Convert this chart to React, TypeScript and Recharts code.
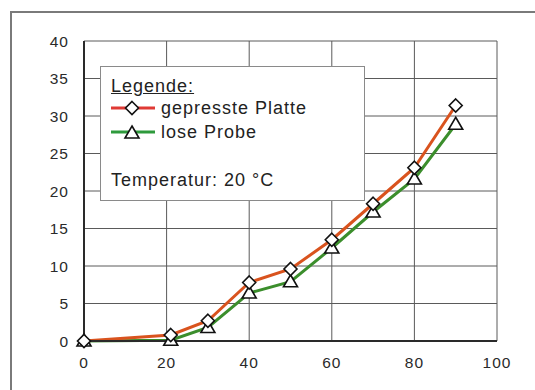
import { LineChart, Line, XAxis, YAxis, CartesianGrid } from "recharts";

const xs = [0, 21, 30, 40, 50, 60, 70, 80, 90];
const platte = [0, 0.8, 2.7, 7.8, 9.6, 13.5, 18.3, 23.1, 31.4];
const probe = [0, 0.1, 1.8, 6.4, 7.9, 12.4, 17.2, 21.6, 28.9];
const xTicks = [0, 20, 40, 60, 80, 100];
const yTicks = [0, 5, 10, 15, 20, 25, 30, 35, 40];

const RED = "#d9531e";
const GREEN = "#3b8e2c";
const FONT = "'Liberation Sans', Arial, sans-serif";

const data = xs.map((x, i) => ({ x, platte: platte[i], probe: probe[i] }));

function Diamond(props: any) {
  const { cx, cy } = props;
  if (cx == null || cy == null) return null;
  const r = 6.5;
  return (
    <path
      d={`M${cx},${cy - r} L${cx + r},${cy} L${cx},${cy + r} L${cx - r},${cy} Z`}
      fill="#fff"
      stroke="#111"
      strokeWidth={1.6}
    />
  );
}

function Triangle(props: any) {
  const { cx, cy } = props;
  if (cx == null || cy == null) return null;
  return (
    <path
      d={`M${cx},${cy - 7} L${cx + 7},${cy + 5} L${cx - 7},${cy + 5} Z`}
      fill="#fff"
      stroke="#111"
      strokeWidth={1.6}
    />
  );
}

function Icon({ color, shape }: { color: string; shape: "d" | "t" }) {
  return (
    <svg width={44} height={18} style={{ position: "absolute", left: 0, top: 0 }}>
      <line x1={0} y1={9} x2={44} y2={9} stroke={color} strokeWidth={3} />
      {shape === "d" ? <Diamond cx={21} cy={9} /> : <Triangle cx={21} cy={10} />}
    </svg>
  );
}

const txt = { fontFamily: FONT, fontSize: 18, color: "#222", letterSpacing: 1, lineHeight: "18px", whiteSpace: "nowrap" as const };
const tickStyle = { fontFamily: FONT, fontSize: 15.5, fill: "#2a2a2a", letterSpacing: 1 };

export default function App() {
  return (
    <div style={{ position: "fixed", left: 0, top: 0, width: 535, height: 390, overflow: "hidden", background: "#fff" }}>
      <div style={{ position: "absolute", left: 10, top: 11, width: 560, height: 420, border: "2px solid #7a7a7a" }} />
      <div style={{ position: "absolute", left: 0, top: 0 }}>
        <LineChart width={535} height={390} data={data} margin={{ top: 41, right: 38, bottom: 19, left: 24 }}>
          <CartesianGrid stroke="#5a5a5a" strokeWidth={1} horizontalValues={yTicks} verticalValues={xTicks} />
          <XAxis
            dataKey="x"
            type="number"
            domain={[0, 100]}
            ticks={xTicks}
            height={30}
            tickLine={false}
            tickSize={0}
            tickMargin={16}
            axisLine={{ stroke: "#2a2a2a", strokeWidth: 2 }}
            tick={tickStyle}
          />
          <YAxis
            type="number"
            domain={[0, 40]}
            ticks={yTicks}
            width={60}
            tickLine={false}
            tickSize={0}
            tickMargin={15}
            axisLine={{ stroke: "#2a2a2a", strokeWidth: 2 }}
            tick={tickStyle}
          />
          <Line
            dataKey="probe"
            stroke={GREEN}
            strokeWidth={3}
            dot={<Triangle />}
            isAnimationActive={false}
          />
          <Line
            dataKey="platte"
            stroke={RED}
            strokeWidth={3}
            dot={<Diamond />}
            isAnimationActive={false}
          />
        </LineChart>
      </div>
      <div
        style={{
          position: "absolute",
          left: 100,
          top: 66,
          width: 263,
          height: 133,
          border: "1.5px solid #8a8a8a",
          background: "#fff",
        }}
      >
        <div style={{ ...txt, position: "absolute", left: 10, top: 10, textDecoration: "underline" }}>Legende:</div>
        <div style={{ position: "absolute", left: 10, top: 32, width: 44, height: 18 }}>
          <Icon color="#e03a35" shape="d" />
        </div>
        <div style={{ ...txt, position: "absolute", left: 60, top: 32 }}>gepresste Platte</div>
        <div style={{ position: "absolute", left: 10, top: 56, width: 44, height: 18 }}>
          <Icon color="#2e9a3c" shape="t" />
        </div>
        <div style={{ ...txt, position: "absolute", left: 60, top: 56 }}>lose Probe</div>
        <div style={{ ...txt, position: "absolute", left: 10, top: 104 }}>Temperatur: 20 °C</div>
      </div>
    </div>
  );
}
